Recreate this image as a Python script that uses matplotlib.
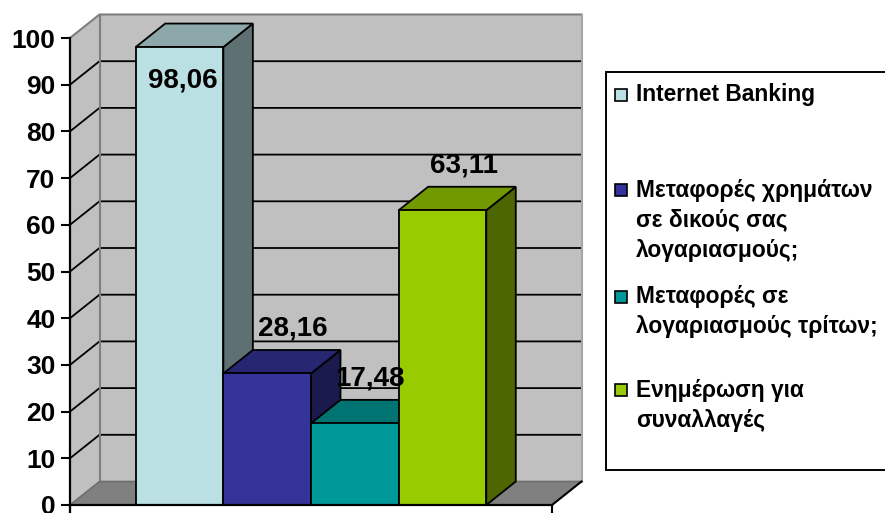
import matplotlib
matplotlib.use("Agg")
import matplotlib.pyplot as plt
from matplotlib.patches import Polygon, Rectangle
from matplotlib.colors import to_rgb

# ---- data -------------------------------------------------------------
series_names = [
    "Internet Banking",
    "Μεταφορές χρημάτων\nσε δικούς σας\nλογαριασμούς;",
    "Μεταφορές σε\nλογαριασμούς τρίτων;",
    "Ενημέρωση για\nσυναλλαγές",
]
values = [98.06, 28.16, 17.48, 63.11]
value_labels = ["98,06", "28,16", "17,48", "63,11"]
y_ticks = [0, 10, 20, 30, 40, 50, 60, 70, 80, 90, 100]

# ---- style ------------------------------------------------------------
front_colors = ["#BBE0E3", "#333399", "#009999", "#99CC00"]
FONT = ["Liberation Sans", "DejaVu Sans"]
plt.rcParams["font.family"] = FONT

W, H = 885, 513
fig = plt.figure(figsize=(W / 100, H / 100), dpi=100)
ax = fig.add_axes([0, 0, 1, 1])
ax.patch.set_visible(False)

# front plane of the plot box, in pixels
X0_PX, X1_PX = 70, 552
Y0_PX, Y100_PX = 505, 38
N_UNITS = 5.5                     # 4 bars + 150% gap width
PX_PER_X = (X1_PX - X0_PX) / N_UNITS
PX_PER_V = (Y0_PX - Y100_PX) / 100.0
ax.set_xlim(-X0_PX / PX_PER_X, (W - X0_PX) / PX_PER_X)
ax.set_ylim(-(H - Y0_PX) / PX_PER_V, Y0_PX / PX_PER_V)

# depth offset of the 3-D box
DX = 29.5 / PX_PER_X
DV = 23.5 / PX_PER_V
VMAX = 100


def shade(c, f):
    r, g, b = to_rgb(c)
    return (r * f, g * f, b * f)


# ---- walls and floor --------------------------------------------------
wall = "#C0C0C0"
ax.add_patch(Polygon([(DX, DV), (N_UNITS + DX, DV), (N_UNITS + DX, VMAX + DV), (DX, VMAX + DV)],
                     closed=True, facecolor=wall, edgecolor="none", zorder=1))
ax.add_patch(Polygon([(0, 0), (0, VMAX), (DX, VMAX + DV), (DX, DV)],
                     closed=True, facecolor=wall, edgecolor="none", zorder=1))
ax.add_patch(Polygon([(0, 0), (N_UNITS, 0), (N_UNITS + DX, DV), (DX, DV)],
                     closed=True, facecolor="#808080", edgecolor="none", zorder=1))

# gridlines on side and back walls
for v in y_ticks[1:-1]:
    ax.plot([0, DX, N_UNITS + DX], [v, v + DV, v + DV], color="black", lw=1.3,
            zorder=1.5, solid_capstyle="butt")

# wall borders
edge = "#7F7F7F"
ax.plot([0, DX, N_UNITS + DX], [VMAX, VMAX + DV, VMAX + DV], color=edge, lw=1.5, zorder=1.6)
ax.plot([DX, DX], [DV, VMAX + DV], color=edge, lw=1.5, zorder=1.6)
ax.plot([N_UNITS + DX, N_UNITS + DX], [DV, VMAX + DV], color="#A6A6A6", lw=1.5, zorder=1.6)
ax.plot([0, DX, N_UNITS + DX], [0, DV, DV], color="#6E6E6E", lw=1.2, zorder=1.6)
ax.plot([N_UNITS, N_UNITS + DX], [0, DV], color="black", lw=1.5, zorder=1.6)

# ---- 3-D bars ---------------------------------------------------------
start = 0.75
for i, (v, c) in enumerate(zip(values, front_colors)):
    x0 = start + i
    x1 = x0 + 1
    z = 3 + i * 0.1
    kw = dict(closed=True, edgecolor="black", lw=1.3, joinstyle="miter")
    ax.add_patch(Polygon([(x1, 0), (x1 + DX, DV), (x1 + DX, v + DV), (x1, v)],
                         facecolor=shade(c, 0.5), zorder=z, **kw))
    ax.add_patch(Polygon([(x0, v), (x1, v), (x1 + DX, v + DV), (x0 + DX, v + DV)],
                         facecolor=shade(c, 0.75), zorder=z, **kw))
    ax.add_patch(Polygon([(x0, 0), (x1, 0), (x1, v), (x0, v)],
                         facecolor=c, zorder=z, **kw))

# value labels above each bar (kept inside the plot box)
label_nudge_px = [3, 26, 15, 22]
LABEL_CEIL = 91.0
for i, (v, txt) in enumerate(zip(values, value_labels)):
    xc = start + i + 0.5 + label_nudge_px[i] / PX_PER_X
    yc = min(v + DV + 4.5, LABEL_CEIL)
    ax.text(xc, yc, txt, ha="center", va="center", fontsize=20,
            fontweight="bold", color="black", zorder=10)

# ---- axes -------------------------------------------------------------
for s in ("top", "right"):
    ax.spines[s].set_visible(False)
ax.spines["left"].set_position(("data", 0))
ax.spines["left"].set_bounds(ax.get_ylim()[0], VMAX)
ax.spines["bottom"].set_position(("data", 0))
ax.spines["bottom"].set_bounds(0, N_UNITS)
for s in ("left", "bottom"):
    ax.spines[s].set_linewidth(1.6)
    ax.spines[s].set_zorder(6)

ax.set_yticks(y_ticks)
ax.set_yticklabels([str(t) for t in y_ticks], fontweight="bold")
ax.tick_params(axis="y", direction="out", length=6.5, width=1.5, labelsize=19, pad=4)
ax.set_xticks([0, N_UNITS])
ax.set_xticklabels(["", ""])
ax.tick_params(axis="x", direction="out", length=5.5, width=1.5)

# ---- legend -----------------------------------------------------------
def fx(px):
    return px / W


def fy(py):
    return 1 - py / H


LEG_L, LEG_T, LEG_B = 606, 72, 470
fig.patches.append(Rectangle((fx(LEG_L), fy(LEG_B)), fx(W + 20) - fx(LEG_L), fy(LEG_T) - fy(LEG_B),
                             transform=fig.transFigure, facecolor="white", edgecolor="black",
                             lw=1.4, zorder=20))
entry_top_px = [95, 190, 297, 390]
line_gap_px = 30
for name, c, ty in zip(series_names, front_colors, entry_top_px):
    fig.patches.append(Rectangle((fx(615), fy(ty + 6)), fx(12), fy(0) - fy(12),
                                 transform=fig.transFigure, facecolor=c, edgecolor="black",
                                 lw=1.2, zorder=21))
    for k, line in enumerate(name.split("\n")):
        fig.text(fx(636), fy(ty + k * line_gap_px), line, ha="left", va="center",
                 fontsize=16.4, fontweight="bold", color="black", zorder=22)

fig.savefig("out.png", dpi=100)
